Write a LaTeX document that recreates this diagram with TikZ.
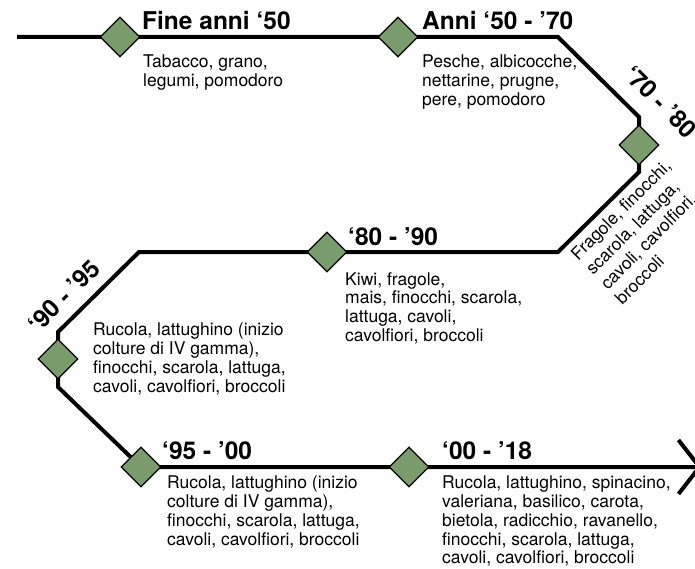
\documentclass[tikz,border=0pt]{standalone}
\usepackage{fontspec}
\setmainfont{TeX Gyre Heros}
\usetikzlibrary{shapes.geometric,arrows.meta}
\definecolor{verde}{RGB}{122,155,108}

\begin{document}
\begin{tikzpicture}[x=1pt,y=-1pt,
		linea/.style={line width=4pt},
		tappa/.style={diamond, draw, line width=1.2pt, fill=verde, minimum size=40pt, inner sep=0pt},
		titolo/.style={anchor=base west, inner sep=0pt, font=\fontsize{24.5}{26}\selectfont\bfseries},
		testo/.style={anchor=north west, inner sep=0pt, align=left, font=\fontsize{17.5}{18.7}\selectfont}]
			\useasboundingbox (0,0) rectangle (695,569);
			
			\coordinate (S) at (17,37);
			\coordinate (P1) at (120,37);
			\coordinate (P2) at (398,37);
			\coordinate (C1) at (558,37);
			\coordinate (C2) at (639,117);
			\coordinate (P3) at (639,145);
			\coordinate (C3) at (639,172);
			\coordinate (C4) at (558,252);
			\coordinate (P4) at (327,252);
			\coordinate (C5) at (139,252);
			\coordinate (C6) at (58,332);
			\coordinate (P5) at (58,359);
			\coordinate (C7) at (58,387);
			\coordinate (P6) at (141,467);
			\coordinate (P7) at (409,467);
			\coordinate (E) at (702,467);
			
			\draw[linea, -{Straight Barb[length=21pt,width=54pt]}] (S) -- (P1) -- (P2) -- (C1) -- (C2) -- (P3) -- (C3) -- (C4) -- (P4) -- (C5) -- (C6) -- (P5) -- (C7) -- (P6) -- (P7) -- (E);
			
			\node[tappa] (D1) at (P1) {};
			\node[tappa] (D2) at (P2) {};
			\node[tappa] (D3) at (P3) {};
			\node[tappa] (D4) at (P4) {};
			\node[tappa] (D5) at (P5) {};
			\node[tappa] (D6) at (P6) {};
			\node[tappa] (D7) at (P7) {};
			
			\node[titolo] (T1) at (142,29.5) {Fine anni ‘50};
			\node[titolo] (T2) at (422,29.5) {Anni ‘50 - ’70};
			\node[titolo, anchor=center, rotate=-45] (T3) at (661,102) {‘70 - ’80};
			\node[titolo] (T4) at (348,245) {‘80 - ’90};
			\node[titolo, anchor=center, rotate=45] (T5) at (64,296) {‘90 - ’95};
			\node[titolo] (T6) at (162,459) {‘95 - ’00};
			\node[titolo] (T7) at (442,459) {‘00 - ’18};
			
			\node[testo] (B1) at (143,55) {Tabacco, grano,\\legumi, pomodoro};
			\node[testo] (B2) at (422,55) {Pesche, albicocche,\\nettarine, prugne,\\pere, pomodoro};
			\node[testo, rotate=45, font=\fontsize{17.5}{20.8}\selectfont] (B3) at (569,252) {Fragole, finocchi,\\scarola, lattuga,\\cavoli, cavolfiori,\\broccoli};
			\node[testo] (B4) at (345,272) {Kiwi, fragole,\\mais, finocchi, scarola,\\lattuga, cavoli,\\cavolfiori, broccoli};
			\node[testo] (B5) at (93,323) {Rucola, lattughino (inizio\\colture di IV gamma),\\finocchi, scarola, lattuga,\\cavoli, cavolfiori, broccoli};
			\node[testo] (B6) at (167,476) {Rucola, lattughino (inizio\\colture di IV gamma),\\finocchi, scarola, lattuga,\\cavoli, cavolfiori, broccoli};
			\node[testo] (B7) at (442,476) {Rucola, lattughino, spinacino,\\valeriana, basilico, carota,\\bietola, radicchio, ravanello,\\finocchi, scarola, lattuga,\\cavoli, cavolfiori, broccoli};
		\end{tikzpicture}
\end{document}
